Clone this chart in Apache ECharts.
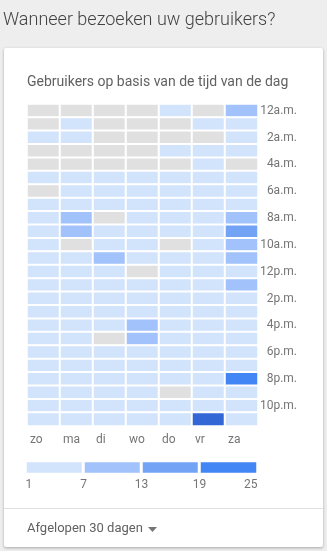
<!DOCTYPE html>
<html>
<head>
<meta charset="utf-8">
<script src="https://cdn.jsdelivr.net/npm/echarts@6/dist/echarts.min.js"></script>
<style>
html,body{margin:0;padding:0;background:#eeeeee;}
#chart{width:327px;height:551px;}
</style>
</head>
<body>
<div id="chart"></div>
<script>
// Categories
const days = ['zo', 'ma', 'di', 'wo', 'do', 'vr', 'za'];
const hours = ['12a.m.','1a.m.','2a.m.','3a.m.','4a.m.','5a.m.','6a.m.','7a.m.','8a.m.','9a.m.','10a.m.','11a.m.',
               '12p.m.','1p.m.','2p.m.','3p.m.','4p.m.','5p.m.','6p.m.','7p.m.','8p.m.','9p.m.','10p.m.','11p.m.'];
// Users per hour (12a.m. .. 11p.m.) for each day
const zo = [0,0,2,0,0,2,0,3,3,4,3,4,4,4,5,4,4,4,5,4,5,4,3,3];
const ma = [0,2,2,0,0,2,2,3,9,10,0,4,4,5,4,5,4,5,4,5,4,4,4,3];
const di = [0,0,0,0,0,2,2,3,0,4,4,9,5,4,5,5,5,0,4,5,5,5,4,4];
const wo = [0,0,0,0,0,2,2,4,4,4,4,4,0,4,5,4,10,9,5,4,5,4,5,4];
const dO = [2,0,0,2,0,2,2,3,3,4,0,4,4,5,4,5,5,4,4,5,4,0,4,3];
const vr = [0,2,0,2,2,2,2,3,3,3,3,4,4,4,5,4,4,4,5,4,5,4,4,27];
const za = [8,3,2,2,0,3,3,4,10,16,11,9,5,9,5,4,5,5,4,5,21,4,5,4];
// Legend
const legendTicks = ['1', '7', '13', '19', '25'];
const legendBands = [4, 10, 16, 22];

const perDay = [zo, ma, di, wo, dO, vr, za];
const cells = [];
perDay.forEach((arr, d) => arr.forEach((v, h) => cells.push([d, h, v])));
const legendCells = legendBands.map((v, i) => [i, 0, v]);

const chart = echarts.init(document.getElementById('chart'));
const fontFamily = 'Roboto, "Noto Sans", sans-serif';
chart.setOption({
  backgroundColor: '#eeeeee',
  animation: false,
  textStyle: { fontFamily: fontFamily },
  graphic: [
    { type: 'rect', shape: { x: 4, y: 48, width: 319, height: 499, r: 2 }, z: -10,
      style: { fill: '#ffffff', shadowBlur: 3, shadowOffsetY: 1, shadowColor: 'rgba(0,0,0,0.3)' } },
    { type: 'line', shape: { x1: 4, y1: 508.5, x2: 323, y2: 508.5 }, z: -5,
      style: { stroke: '#e0e0e0', lineWidth: 1 } },
    { type: 'polygon', shape: { points: [[148, 527], [157, 527], [152.5, 532]] },
      style: { fill: '#757575' } }
  ],
  title: [
    { text: 'Wanneer bezoeken uw gebruikers?', left: 3, top: 11, padding: 0,
      textStyle: { fontSize: 18, fontWeight: 300, color: '#424242', fontFamily: fontFamily } },
    { text: 'Gebruikers op basis van de tijd van de dag', left: 27, top: 75, padding: 0,
      textStyle: { fontSize: 14, fontWeight: 'normal', color: '#616161', fontFamily: fontFamily } },
    { text: 'Afgelopen 30 dagen', left: 27, top: 522, padding: 0,
      textStyle: { fontSize: 13, fontWeight: 'normal', color: '#616161', fontFamily: fontFamily } }
  ],
  grid: [
    { left: 27, top: 104, width: 231, height: 322 },
    { left: 25.5, top: 461, width: 232, height: 13 }
  ],
  xAxis: [
    { type: 'category', gridIndex: 0, data: days, show: false },
    { type: 'category', gridIndex: 1, data: legendBands, show: false },
    { type: 'category', gridIndex: 1, data: legendTicks, boundaryGap: false, position: 'bottom',
      axisLine: { show: false }, axisTick: { show: false }, splitLine: { show: false },
      axisLabel: { interval: 0, margin: 5, fontSize: 12, color: '#757575',
        alignMinLabel: 'left', alignMaxLabel: 'right' } },
    { type: 'category', gridIndex: 0, data: days.concat(['']), boundaryGap: false, position: 'bottom',
      axisLine: { show: false }, axisTick: { show: false }, splitLine: { show: false },
      axisLabel: { interval: 0, margin: 8, fontSize: 12, color: '#757575', align: 'left', padding: [0, 0, 0, 3] } }
  ],
  yAxis: [
    { type: 'category', gridIndex: 0, data: hours, inverse: true, position: 'right',
      axisLine: { show: false }, axisTick: { show: false }, splitLine: { show: false },
      axisLabel: { interval: 1, margin: 39, align: 'right', fontSize: 12, color: '#757575' } },
    { type: 'category', gridIndex: 1, data: ['legend'], show: false }
  ],
  visualMap: {
    type: 'piecewise', show: false, dimension: 2, seriesIndex: [0, 1],
    pieces: [
      { lt: 1, color: '#e0e0e0' },
      { gte: 1, lt: 7, color: '#d2e3fc' },
      { gte: 7, lt: 13, color: '#a1c2fa' },
      { gte: 13, lt: 19, color: '#72a3f5' },
      { gte: 19, lte: 25, color: '#4285f4' },
      { gt: 25, color: '#3367d6' }
    ]
  },
  series: [
    { type: 'heatmap', xAxisIndex: 0, yAxisIndex: 0, data: cells, silent: true,
      itemStyle: { borderColor: '#ffffff', borderWidth: 2 }, emphasis: { disabled: true } },
    { type: 'heatmap', xAxisIndex: 1, yAxisIndex: 1, data: legendCells, silent: true,
      itemStyle: { borderColor: '#ffffff', borderWidth: 3 }, emphasis: { disabled: true } }
  ]
});
</script>
</body>
</html>
